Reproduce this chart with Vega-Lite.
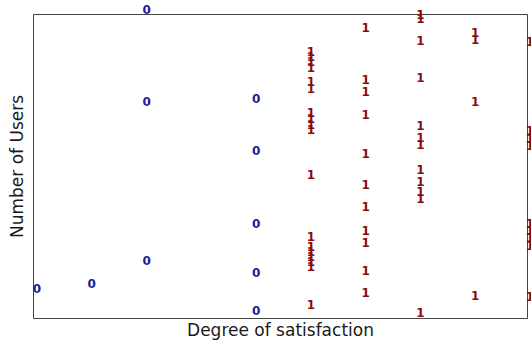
{
  "$schema": "https://vega.github.io/schema/vega-lite/v6.json",
  "width": 494,
  "height": 304,
  "autosize": "none",
  "padding": {"left": 33, "top": 14, "right": 4, "bottom": 26},
  "background": "white",
  "config": {
    "view": {"stroke": "#444444", "strokeWidth": 1},
    "axis": {"domain": false, "ticks": false, "labels": false, "grid": false, "titleFont": "DejaVu Sans", "titleFontSize": 17, "titleFontWeight": "normal", "titleColor": "#1a1a1a"}
  },
  "data": {
    "values": [
      {"satisfaction": 1, "users": 29, "label": "0"},
      {"satisfaction": 2, "users": 34, "label": "0"},
      {"satisfaction": 3, "users": 308, "label": "0"},
      {"satisfaction": 3, "users": 216, "label": "0"},
      {"satisfaction": 3, "users": 57, "label": "0"},
      {"satisfaction": 5, "users": 219, "label": "0"},
      {"satisfaction": 5, "users": 167, "label": "0"},
      {"satisfaction": 5, "users": 94, "label": "0"},
      {"satisfaction": 5, "users": 45, "label": "0"},
      {"satisfaction": 5, "users": 7, "label": "0"},
      {"satisfaction": 6, "users": 266, "label": "1"},
      {"satisfaction": 6, "users": 261, "label": "1"},
      {"satisfaction": 6, "users": 256, "label": "1"},
      {"satisfaction": 6, "users": 250, "label": "1"},
      {"satisfaction": 6, "users": 236, "label": "1"},
      {"satisfaction": 6, "users": 229, "label": "1"},
      {"satisfaction": 6, "users": 205, "label": "1"},
      {"satisfaction": 6, "users": 199, "label": "1"},
      {"satisfaction": 6, "users": 193, "label": "1"},
      {"satisfaction": 6, "users": 188, "label": "1"},
      {"satisfaction": 6, "users": 143, "label": "1"},
      {"satisfaction": 6, "users": 81, "label": "1"},
      {"satisfaction": 6, "users": 71, "label": "1"},
      {"satisfaction": 6, "users": 66, "label": "1"},
      {"satisfaction": 6, "users": 61, "label": "1"},
      {"satisfaction": 6, "users": 56, "label": "1"},
      {"satisfaction": 6, "users": 51, "label": "1"},
      {"satisfaction": 6, "users": 13, "label": "1"},
      {"satisfaction": 7, "users": 290, "label": "1"},
      {"satisfaction": 7, "users": 238, "label": "1"},
      {"satisfaction": 7, "users": 226, "label": "1"},
      {"satisfaction": 7, "users": 203, "label": "1"},
      {"satisfaction": 7, "users": 164, "label": "1"},
      {"satisfaction": 7, "users": 133, "label": "1"},
      {"satisfaction": 7, "users": 111, "label": "1"},
      {"satisfaction": 7, "users": 87, "label": "1"},
      {"satisfaction": 7, "users": 75, "label": "1"},
      {"satisfaction": 7, "users": 47, "label": "1"},
      {"satisfaction": 7, "users": 25, "label": "1"},
      {"satisfaction": 8, "users": 303, "label": "1"},
      {"satisfaction": 8, "users": 299, "label": "1"},
      {"satisfaction": 8, "users": 277, "label": "1"},
      {"satisfaction": 8, "users": 240, "label": "1"},
      {"satisfaction": 8, "users": 192, "label": "1"},
      {"satisfaction": 8, "users": 180, "label": "1"},
      {"satisfaction": 8, "users": 173, "label": "1"},
      {"satisfaction": 8, "users": 148, "label": "1"},
      {"satisfaction": 8, "users": 136, "label": "1"},
      {"satisfaction": 8, "users": 126, "label": "1"},
      {"satisfaction": 8, "users": 119, "label": "1"},
      {"satisfaction": 8, "users": 5, "label": "1"},
      {"satisfaction": 9, "users": 285, "label": "1"},
      {"satisfaction": 9, "users": 278, "label": "1"},
      {"satisfaction": 9, "users": 216, "label": "1"},
      {"satisfaction": 9, "users": 22, "label": "1"},
      {"satisfaction": 10, "users": 276, "label": "1"},
      {"satisfaction": 10, "users": 187, "label": "1"},
      {"satisfaction": 10, "users": 179, "label": "1"},
      {"satisfaction": 10, "users": 172, "label": "1"},
      {"satisfaction": 10, "users": 94, "label": "1"},
      {"satisfaction": 10, "users": 87, "label": "1"},
      {"satisfaction": 10, "users": 80, "label": "1"},
      {"satisfaction": 10, "users": 72, "label": "1"},
      {"satisfaction": 10, "users": 21, "label": "1"}
    ]
  },
  "mark": {"type": "text", "font": "DejaVu Sans", "fontWeight": "bold", "fontSize": 12, "align": "center", "baseline": "middle"},
  "encoding": {
    "x": {"field": "satisfaction", "type": "quantitative", "scale": {"domain": [0.927, 9.945], "nice": false, "zero": false}, "axis": {"title": "Degree of satisfaction", "titlePadding": 4}},
    "y": {"field": "users", "type": "quantitative", "scale": {"domain": [0, 304], "nice": false, "zero": false}, "axis": {"title": "Number of Users", "titlePadding": 7}},
    "text": {"field": "label"},
    "color": {"field": "label", "type": "nominal", "scale": {"domain": ["0", "1"], "range": ["#1c1c96", "#8b0a0a"]}, "legend": null}
  }
}
